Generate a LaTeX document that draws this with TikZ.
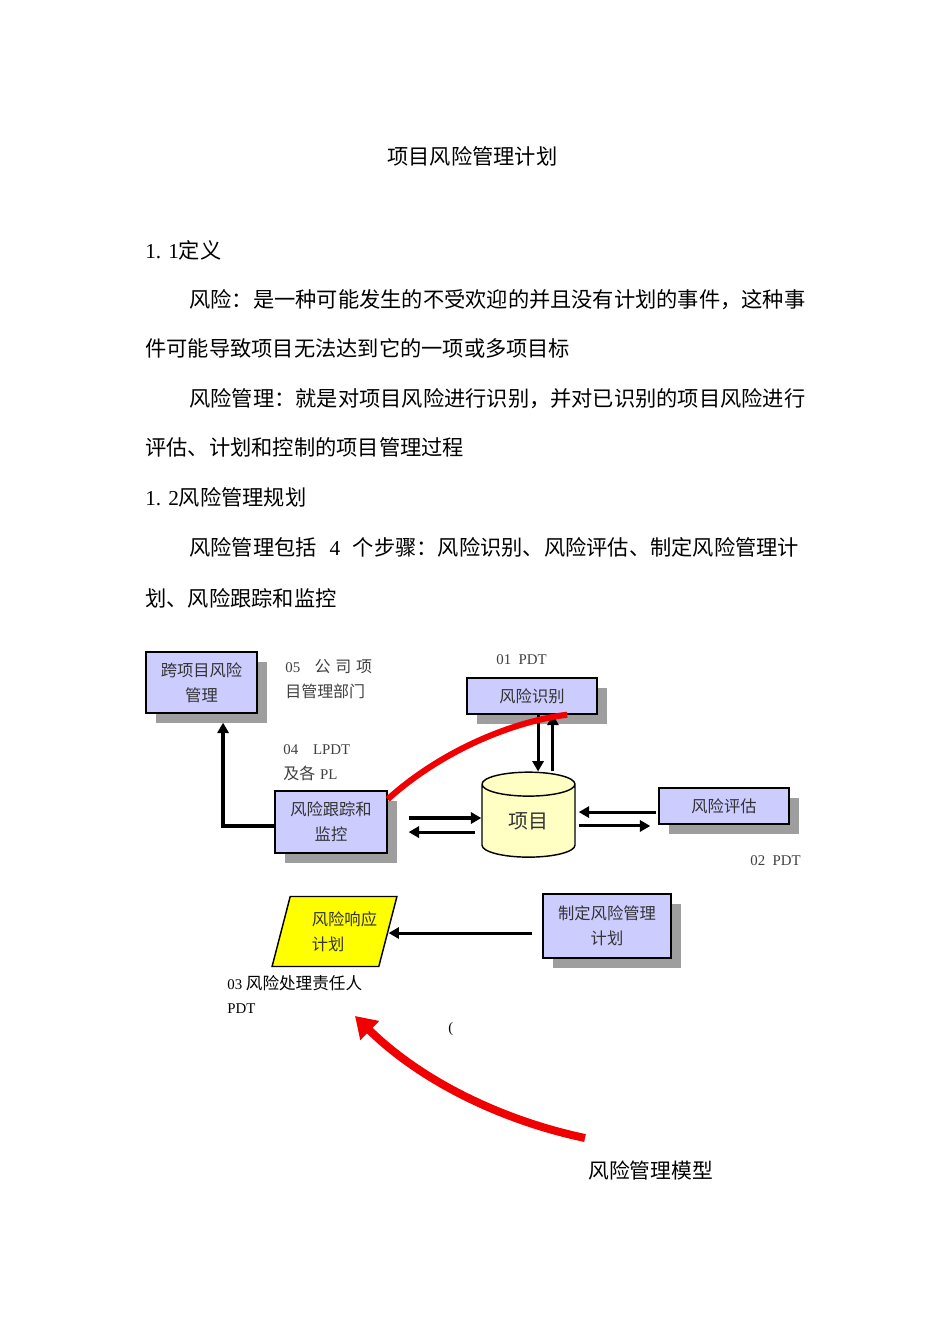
\documentclass[tikz,border=0pt]{standalone}
\usepackage{fontspec}
\setmainfont{Liberation Serif}
\newfontfamily\cjk{Noto Sans CJK SC}
\usetikzlibrary{arrows.meta,shapes.geometric,shadows}

\definecolor{lavender}{RGB}{204,204,255}
\definecolor{paleyellow}{RGB}{255,255,196}
\definecolor{brightyellow}{RGB}{255,255,0}
\definecolor{shadegray}{RGB}{158,158,158}
\definecolor{riskred}{RGB}{240,0,0}
\newcommand\latinpart[1]{{\rmfamily\fontsize{9.3}{10}\selectfont #1}}

\begin{document}
\begin{tikzpicture}[x=0.626pt,y=-0.626pt,
  >={Triangle[length=6.5pt,width=7pt]},
  bodytext/.style={anchor=base west,inner sep=0pt,font=\fontsize{13.3}{16}\selectfont},
  tagtext/.style={anchor=west,inner sep=0pt,align=left,text=black!75,font=\cjk\fontsize{10}{15.6}\selectfont},
  stepbox/.style={draw,line width=0.9pt,fill=lavender,text=black!80,align=center,inner sep=0pt,
    font=\cjk\fontsize{10.2}{15.6}\selectfont,
    general shadow={fill=shadegray,shadow xshift=6.3pt,shadow yshift=-6.3pt}},
  flow/.style={->,line width=1.9pt}]
\useasboundingbox[fill=white] (0,0) rectangle (950,1344);

% text above the model
\node[bodytext] (title) at (387,164) {\cjk 项目风险管理计划};
\node[bodytext] (sec1) at (145,258) {1. 1{\cjk 定义}};
\node[bodytext] (riskA) at (189,307) {\cjk 风险：是一种可能发生的不受欢迎的并且没有计划的事件，这种事};
\node[bodytext] (riskB) at (145,356) {\cjk 件可能导致项目无法达到它的一项或多项目标};
\node[bodytext] (mgmtA) at (189,406) {\cjk 风险管理：就是对项目风险进行识别，并对已识别的项目风险进行};
\node[bodytext] (mgmtB) at (145,455) {\cjk 评估、计划和控制的项目管理过程};
\node[bodytext] (sec2) at (145,505) {1. 2{\cjk 风险管理规划}};
\node[bodytext] (stepsA) at (189,555) {{\cjk 风险管理包括}\hspace{0.6em}4\hspace{0.6em}{\cjk 个步骤：风险识别、风险评估、制定风险管理计}};
\node[bodytext] (stepsB) at (145,606) {\cjk 划、风险跟踪和监控};

% the model
\node[stepbox,minimum width=69.5pt,minimum height=38.2pt] (trm) at (201.5,682.5) {跨项目风险\\管理};
\node[stepbox,minimum width=81.4pt,minimum height=22.5pt] (rid) at (532,696) {风险识别};
\node[stepbox,minimum width=70.1pt,minimum height=38.8pt] (trk) at (331,822) {风险跟踪和\\监控};
\node[stepbox,minimum width=81.4pt,minimum height=22.5pt] (asm) at (724,806) {风险评估};
\node[stepbox,minimum width=80.1pt,minimum height=40.1pt] (plan) at (607,926) {制定风险管理\\计划};
\node[cylinder,shape border rotate=90,aspect=0.6,draw,line width=0.9pt,fill=paleyellow,
  minimum width=58.2pt,minimum height=53.2pt,inner sep=0pt,text=black!80,
  font=\cjk\fontsize{12.5}{14}\selectfont] (prj) at (528.5,821) {\raisebox{-3pt}{项目}};
\node[trapezium,trapezium left angle=66.5,trapezium right angle=113.5,trapezium stretches=true,
  draw,line width=0.9pt,fill=brightyellow,minimum width=78.3pt,minimum height=43.8pt,
  align=left,inner sep=0pt,text=black!80,font=\cjk\fontsize{10.2}{15.6}\selectfont]
  (resp) at (334.5,931.5) {\hspace*{12.5pt}风险响应\\\hspace*{12.5pt}计划};

% who does what
\node[tagtext] (org) at (285,679.5) {\latinpart{05}\hspace{9pt}公\hspace{3pt}司\hspace{3pt}项\\目管理部门};
\node[tagtext] (pdtA) at (496,660) {\latinpart{01\hspace{0.5em}PDT}};
\node[tagtext] (lpdt) at (283,762.5) {\latinpart{04\hspace{1em}LPDT}\\及各\hspace{3pt}\latinpart{PL}};
\node[tagtext] (pdtB) at (750,861) {\latinpart{02\hspace{0.5em}PDT}};
\node[anchor=west,inner sep=0pt,align=left,font=\fontsize{9.3}{15}\selectfont] (owner) at (227,994)
  {03 {\cjk\fontsize{10.4}{15}\selectfont 风险处理责任人}\\PDT};
\node[anchor=base west,inner sep=0pt,font=\fontsize{9}{10}\selectfont] (mark) at (448,1032) {(};
\node[bodytext] (caption) at (588,1178) {\cjk\fontsize{13}{16}\selectfont 风险管理模型};

% connectors
\draw[flow] ([xshift=3.8pt]rid.south) -- ([xshift=3.8pt]rid.south |- prj.north);
\draw[flow] ([xshift=13.1pt]rid.south |- prj.north) -- ([xshift=13.1pt]rid.south);
\draw[flow] ([xshift=13.1pt,yshift=2.5pt]trk.east) -- ([yshift=2.5pt]trk.east -| prj.west);
\draw[flow] ([xshift=-3.8pt,yshift=-6.3pt]trk.east -| prj.west) -- ([xshift=13.1pt,yshift=-6.3pt]trk.east);
\draw[flow] ([xshift=-1.3pt,yshift=-3.8pt]asm.west) -- ([xshift=1.9pt,yshift=-3.8pt]asm.west -| prj.east);
\draw[flow] ([xshift=1.9pt,yshift=-12.5pt]asm.west -| prj.east) -- ([xshift=-5pt,yshift=-12.5pt]asm.west);
\draw[flow,line width=2.5pt] ([yshift=-2.5pt]trk.west) -| ([xshift=13.5pt,yshift=-5.6pt]trm.south);
\draw[flow] ([xshift=-6.3pt,yshift=-4.4pt]plan.west) -- ([yshift=-4.4pt]plan.west -| resp.east);

% red loop
\draw[riskred,line width=3.8pt] ([yshift=-5.6pt]trk.north east) .. controls (440,752) and (510,722) .. ([xshift=22pt]rid.south);
\coordinate (loopTail) at (585,1138);
\coordinate (loopHead) at (355,1016);
\draw[-{Triangle[length=13pt,width=16pt]},riskred,line width=5pt] (loopTail) .. controls (500,1120) and (420,1080) .. (loopHead);
\end{tikzpicture}
\end{document}
